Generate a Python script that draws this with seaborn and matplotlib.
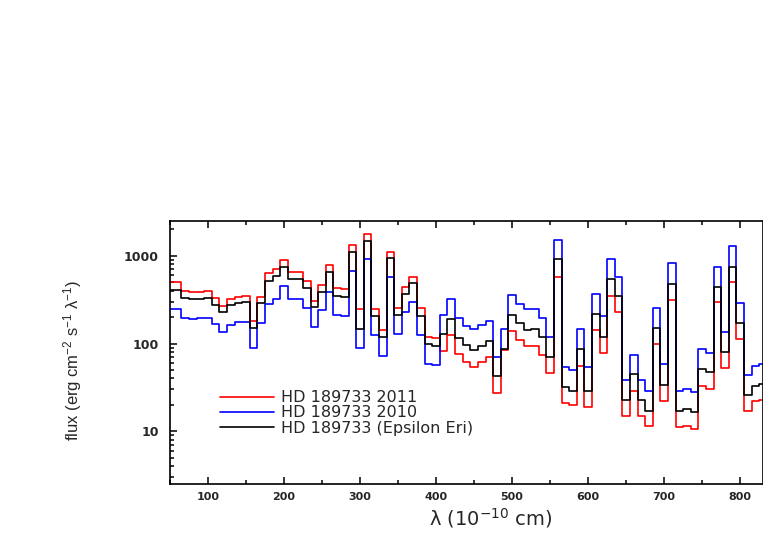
import numpy as np
import pandas as pd
import matplotlib
matplotlib.use("Agg")
import matplotlib.pyplot as plt
import seaborn as sns
from matplotlib.ticker import MultipleLocator, NullFormatter, FixedLocator

# bin centres (10^-10 cm)
wavelength = np.arange(50, 840, 10)

flux_2011 = [500, 500, 398, 388, 391, 398, 328, 268, 320, 343,
             349, 181, 343, 634, 710, 900, 650, 650, 518, 309,
             467, 789, 427, 416, 1336, 245, 1784, 245, 143, 1111,
             252, 439, 571, 252, 118, 115, 82, 125, 77, 62,
             54, 62, 71, 27, 84, 139, 110, 94, 94, 74,
             46, 580, 21, 20, 56, 19, 143, 79, 352, 227,
             14.8, 29, 14.8, 11.4, 100, 22, 314, 11.2, 11.5, 10.7,
             33, 30, 295, 53, 500, 113, 17, 22, 23]

flux_2010 = [245, 245, 197, 190, 194, 197, 166, 135, 164, 175,
             178, 90, 173, 282, 323, 454, 325, 325, 252, 153,
             241, 391, 212, 208, 674, 88, 916, 125, 72, 571,
             127, 227, 301, 125, 58, 57, 212, 323, 194, 158,
             145, 163, 182, 71, 145, 358, 280, 245, 245, 194,
             120, 1524, 54, 50, 145, 54, 368, 206, 916, 580,
             38, 75, 38, 29, 257, 58, 824, 29, 30, 28,
             86, 79, 755, 136, 1301, 288, 44, 55, 59]

flux_eps = [405, 405, 334, 320, 323, 328, 273, 229, 275, 293,
            298, 149, 288, 522, 590, 755, 546, 546, 427, 259,
            391, 650, 349, 343, 1121, 145, 1497, 208, 118, 940,
            210, 368, 496, 206, 98, 95, 127, 189, 117, 96,
            84, 94, 108, 43, 86, 212, 170, 143, 145, 118,
            71, 916, 32, 29, 86, 29, 215, 120, 541, 349,
            23, 45, 23, 17, 152, 34, 478, 17, 18, 16.5,
            51, 47, 446, 81, 755, 170, 26, 33, 35]

labels = ["HD 189733 2011", "HD 189733 2010", "HD 189733 (Epsilon Eri)"]
colors = ["#ff0000", "#0000ff", "#000000"]

df = pd.concat([
    pd.DataFrame({"wl": wavelength, "flux": f, "series": lab})
    for f, lab in zip([flux_2011, flux_2010, flux_eps], labels)
])

sns.set_style("ticks")
plt.rcParams["font.family"] = ["DejaVu Sans"]
plt.rcParams["mathtext.default"] = "regular"

fig = plt.figure(figsize=(7.63, 5.45), dpi=100)
ax = fig.add_axes([170 / 763, 61 / 545, 593 / 763, 263 / 545])

sns.lineplot(data=df, x="wl", y="flux", hue="series", hue_order=labels,
             palette=colors, drawstyle="steps-mid", linewidth=1.2,
             estimator=None, ax=ax)

ax.set_yscale("log")
ax.set_xlim(50, 830)
ax.set_ylim(2.5, 2500)

ax.xaxis.set_major_locator(MultipleLocator(100))
ax.xaxis.set_minor_locator(MultipleLocator(50))
ax.yaxis.set_major_locator(FixedLocator([10, 100, 1000]))
ax.set_yticklabels(["10", "100", "1000"])
ax.yaxis.set_minor_formatter(NullFormatter())

for s in ax.spines.values():
    s.set_linewidth(1.2)
    s.set_color("black")

ax.tick_params(which="both", direction="in", top=True, right=False,
               width=1.1, color="black")
ax.tick_params(which="major", length=5)
ax.tick_params(which="minor", length=3)
ax.tick_params(axis="x", labelsize=8, pad=6)
ax.tick_params(axis="y", labelsize=9, pad=8)
for t in ax.get_xticklabels() + ax.get_yticklabels():
    t.set_fontweight("bold")

ax.set_xlabel(r"λ (10$^{-10}$ cm)", fontsize=14)
ax.xaxis.set_label_coords(0.541, -0.085)
ax.set_ylabel(r"flux (erg cm$^{-2}$ s$^{-1}$ λ$^{-1}$)", fontsize=12,
              family=["Liberation Sans", "DejaVu Sans"])
ax.yaxis.set_label_coords(-0.145, 0.47)

sns.move_legend(ax, loc="center left", bbox_to_anchor=(0.084, 0.27),
                frameon=False, title=None, fontsize=11.5, borderpad=0,
                borderaxespad=0, handlelength=3.4, handletextpad=0.4,
                labelspacing=0.02)

fig.savefig("out.png", dpi=100)
